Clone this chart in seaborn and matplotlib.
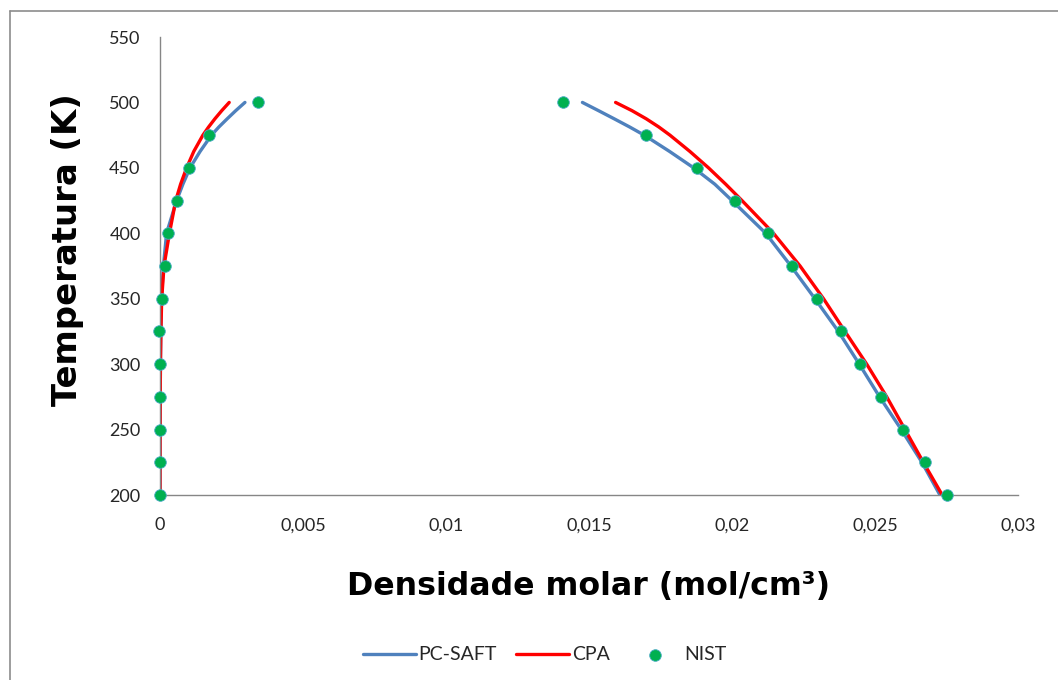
import matplotlib
matplotlib.use("Agg")
import matplotlib.pyplot as plt
import seaborn as sns
import pandas as pd
from matplotlib.lines import Line2D
from matplotlib.ticker import FuncFormatter

# ---------------- data ----------------
T_curve = [200, 225, 250, 275, 300, 325, 350, 375, 400, 425, 437.5, 450, 462.5, 475, 481.25, 487.5, 493.75, 500]

pcsaft_vap = [0.0, 0.000001, 0.000003, 0.000008, 0.000015, 0.00003, 0.00005, 0.00012, 0.00023,
              0.00058, 0.0008, 0.00105, 0.0014, 0.0018, 0.00206, 0.00235, 0.00265, 0.00297]
cpa_vap = [0.0, 0.000001, 0.000003, 0.000008, 0.000015, 0.00003, 0.00006, 0.00014, 0.00033,
           0.00055, 0.00072, 0.00093, 0.00118, 0.00150, 0.00170, 0.00192, 0.00216, 0.00242]

pcsaft_liq = [0.02727, 0.02664, 0.02592, 0.02516, 0.02445, 0.02372, 0.02290, 0.02206, 0.02118,
              0.02000, 0.01940, 0.01866, 0.01782, 0.01693, 0.01642, 0.01588, 0.01533, 0.01477]
cpa_liq = [0.02735, 0.02669, 0.02605, 0.02541, 0.02471, 0.02395, 0.02320, 0.02238, 0.02145,
           0.02035, 0.01978, 0.01918, 0.01853, 0.01783, 0.01744, 0.01700, 0.01650, 0.01593]

T_nist = [200, 225, 250, 275, 300, 325, 350, 375, 400, 425, 450, 475, 500]
nist_vap = [0.0, 0.0, 0.0, 0.0, 0.0, -0.00003, 0.00008, 0.00016, 0.00028, 0.00058, 0.0010, 0.00172, 0.00344]
nist_liq = [0.02751, 0.02675, 0.02599, 0.02520, 0.02448, 0.02380, 0.02296, 0.02211, 0.02125,
            0.02010, 0.01877, 0.01699, 0.01410]

x_ticks = [0, 0.005, 0.01, 0.015, 0.02, 0.025, 0.03]
y_ticks = [200, 250, 300, 350, 400, 450, 500, 550]

# ---------------- style ----------------
sns.set_theme(style="white")
plt.rcParams["font.family"] = ["Lato", "DejaVu Sans"]

BLUE = "#4F81BD"
RED = "#FF0000"
GREEN = "#00B050"
SPINE = "#868686"

fig = plt.figure(figsize=(10.58, 6.8), dpi=100)
ax = fig.add_axes([160 / 1058, 1 - 495 / 680, (1018 - 160) / 1058, (495 - 37) / 680])

def draw(xs, color, label):
    df = pd.DataFrame({"rho": xs, "T": T_curve})
    sns.lineplot(data=df, x="rho", y="T", sort=False, estimator=None, color=color,
                 linewidth=2.4, ax=ax, label=label)

draw(pcsaft_vap, BLUE, "PC-SAFT")
draw(pcsaft_liq, BLUE, None)
draw(cpa_vap, RED, "CPA")
draw(cpa_liq, RED, None)

nist = pd.DataFrame({"rho": nist_vap + nist_liq, "T": T_nist + T_nist})
sns.scatterplot(data=nist, x="rho", y="T", color=GREEN, s=70, edgecolor="#4BACC6",
                linewidth=0.6, ax=ax, label="NIST", zorder=5, clip_on=False)

ax.set_xlim(0, 0.03)
ax.set_ylim(200, 550)
ax.set_xticks(x_ticks)
ax.set_yticks(y_ticks)
ax.xaxis.set_major_formatter(FuncFormatter(lambda v, p: ("%g" % v).replace(".", ",")))

for s in ["top", "right"]:
    ax.spines[s].set_visible(False)
for s in ["left", "bottom"]:
    ax.spines[s].set_color(SPINE)
    ax.spines[s].set_linewidth(1.0)

ax.tick_params(axis="both", which="major", direction="out", length=6, width=1.0,
               color=SPINE, labelsize=13, labelcolor="#262626")
ax.tick_params(axis="y", pad=8)
ax.tick_params(axis="x", pad=10)

ax.set_xlabel("Densidade molar (mol/cm³)", fontsize=22.8, fontweight="bold",
              family=["DejaVu Sans"], color="black", labelpad=27)
ax.set_ylabel("Temperatura (K)", fontsize=24.4, fontweight="bold",
              family=["DejaVu Sans"], color="black")
ax.yaxis.set_label_coords(-0.0886, 0.535)

leg = ax.legend(loc="center", bbox_to_anchor=(545 / 1058, 1 - 655 / 680),
                bbox_transform=fig.transFigure, ncol=3, frameon=False, fontsize=14,
                handlelength=2.7, handletextpad=0.15, columnspacing=1.0)
for t in leg.get_texts():
    t.set_color("#262626")

# outer chart frame (top and left edges)
fig.add_artist(Line2D([10 / 1058, 1.0], [1 - 11 / 680, 1 - 11 / 680], transform=fig.transFigure,
                      color="#8C8C8C", linewidth=1.2))
fig.add_artist(Line2D([10 / 1058, 10 / 1058], [0, 1 - 11 / 680], transform=fig.transFigure,
                      color="#8C8C8C", linewidth=1.2))

fig.savefig("out.png", dpi=100)
